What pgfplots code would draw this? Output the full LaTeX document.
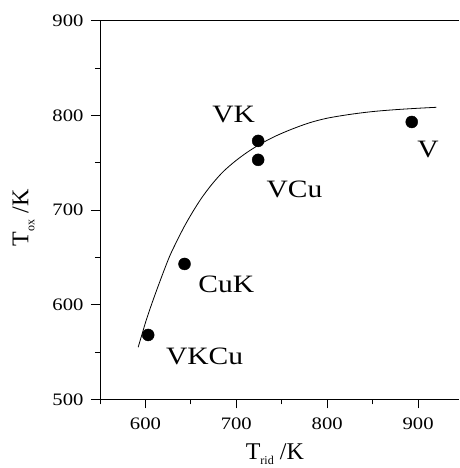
\documentclass[border=0pt]{standalone}
\usepackage{fontspec}
\setmainfont{Liberation Serif}[FakeStretch=1.18]
\newfontfamily\lab{Liberation Serif}
\usepackage{pgfplots}
\pgfplotsset{compat=1.18}
\begin{document}
\begin{tikzpicture}[x=1pt,y=1pt]
\begin{axis}[
  scale only axis,
  width=359pt, height=378.6pt,
  xmin=550, xmax=945, ymin=500, ymax=900,
  axis x line=box, axis y line*=left,
  xtick={600,700,800,900}, ytick={500,600,700,800,900},
  minor xtick={550,650,750,850}, minor ytick={550,650,750,850},
  tick align=outside, xtick pos=bottom, ytick pos=left,
  major tick length=9pt, minor tick length=5pt,
  tick style={black, line width=0.9pt},
  axis line style={line width=0.9pt},
  /pgf/number format/assume math mode=true,
  tick label style={font=\fontsize{17.5}{17.5}\selectfont},
  xticklabel style={yshift=-6pt},
  yticklabel style={xshift=-4pt},
  xlabel={T\raisebox{-5pt}{\fontsize{12}{12}\selectfont rid} /K},
  ylabel={T\raisebox{-6pt}{\fontsize{12}{12}\selectfont ox} /K},
  label style={font=\lab\fontsize{24}{24}\selectfont},
  xlabel style={at={([yshift=-60.4pt]axis description cs:0.487,0)}, anchor=base},
  ylabel style={at={([xshift=-71.7pt]axis description cs:0,0.479)}, anchor=base, rotate=0},
  clip=false,
]
\addplot[black, line width=0.8pt, smooth] coordinates {
(592,555) (596,568) (601,584) (607,601) (613,617) (620,635) (627,652)
(635,668) (643,683) (652,698) (662,713) (673,727) (685,740) (698,751)
(712,761) (727,770) (743,778) (760,785) (780,792) (800,797) (825,801)
(850,804) (875,806) (900,807.5) (920,808.5)};
\addplot[only marks, mark=*, mark size=6pt, black] coordinates {
(724,773) (724,753) (893,793) (643,643) (603,568)};
\node[font=\fontsize{25}{25}\selectfont] at (axis cs:697,801) {VK};
\node[font=\fontsize{25}{25}\selectfont] at (axis cs:764,722) {VCu};
\node[font=\fontsize{25}{25}\selectfont] at (axis cs:911,764) {V};
\node[font=\fontsize{25}{25}\selectfont] at (axis cs:689,621) {CuK};
\node[font=\fontsize{25}{25}\selectfont] at (axis cs:665,545) {VKCu};
\end{axis}
\pgfresetboundingbox
\path[use as bounding box] (-100pt,-68.7pt) rectangle (359pt,399.3pt);
\end{tikzpicture}
\end{document}
